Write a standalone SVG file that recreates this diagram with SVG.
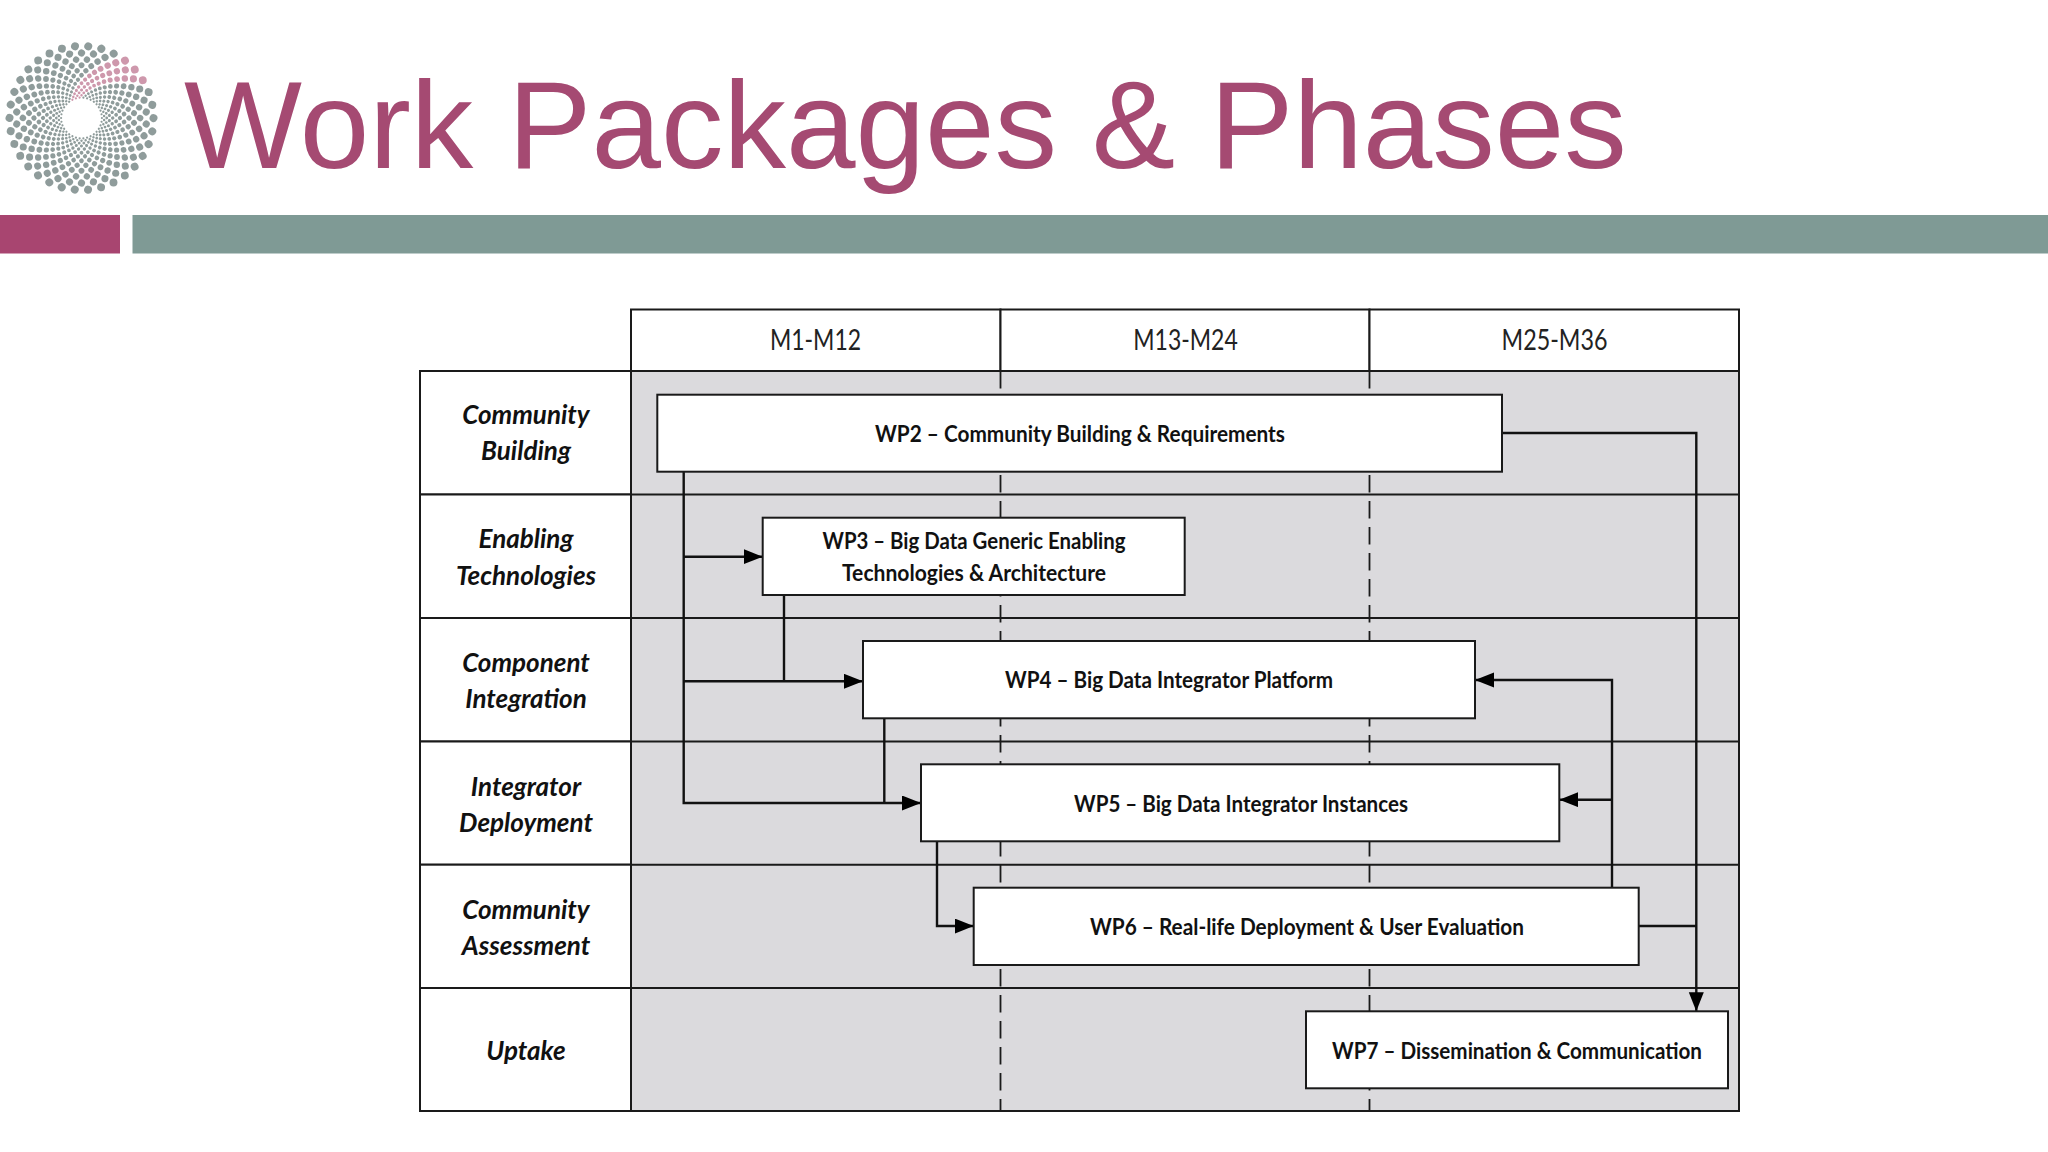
<svg xmlns="http://www.w3.org/2000/svg" width="2048" height="1152" viewBox="0 0 2048 1152">
<style>
.title{font-family:"Liberation Sans",Arial,sans-serif;font-size:125px;fill:#A54A72}
.grid{fill:none;stroke:#1a1a1a;stroke-width:2}
.cell{fill:#fff;stroke:#1a1a1a;stroke-width:2}
.box{fill:#fff;stroke:#1a1a1a;stroke-width:2}
.dash{fill:none;stroke:#1a1a1a;stroke-width:1.8;stroke-dasharray:17.5 8.5}
.conn{fill:none;stroke:#111;stroke-width:2.4}
.hd{font-family:Lato,"Liberation Sans",sans-serif;font-size:28px;fill:#222;text-anchor:middle}
.row{font-family:Lato,"Liberation Sans",sans-serif;font-size:26px;font-weight:700;font-style:italic;fill:#111;text-anchor:middle}
.wp{font-family:Lato,"Liberation Sans",sans-serif;font-size:23.5px;font-weight:700;fill:#111;text-anchor:middle}
</style>
<defs>
<marker id="arrow" markerUnits="userSpaceOnUse" markerWidth="20" markerHeight="16" refX="19" refY="7.5" orient="auto"><path d="M0,0L19,7.5L0,15Z" fill="#000"/></marker>
<g id="arm">
<circle cx="20.4" cy="0" r="1.1"/><circle cx="22.6" cy="2.1" r="1.25"/><circle cx="24.8" cy="4.6" r="1.4"/><circle cx="26.9" cy="7.7" r="1.55"/><circle cx="29.1" cy="11.3" r="1.7"/><circle cx="31.1" cy="15.5" r="1.9"/><circle cx="32.7" cy="20.3" r="2.1"/><circle cx="34.1" cy="25.8" r="2.35"/><circle cx="35.1" cy="32" r="2.6"/><circle cx="35.5" cy="39" r="2.9"/><circle cx="35.3" cy="46.8" r="3.2"/><circle cx="34.2" cy="55.3" r="3.55"/><circle cx="32" cy="64.5" r="3.95"/>
</g>
</defs>
<rect width="2048" height="1152" fill="#fff"/>
<g id="logo" transform="translate(81.5,118)" fill="#8F9C9B">
<use href="#arm" transform="rotate(0)"/><use href="#arm" transform="rotate(10.59)"/><use href="#arm" transform="rotate(21.18)"/><use href="#arm" transform="rotate(31.76)"/><use href="#arm" transform="rotate(42.35)"/><use href="#arm" transform="rotate(52.94)"/><use href="#arm" transform="rotate(63.53)"/><use href="#arm" transform="rotate(74.12)"/><use href="#arm" transform="rotate(84.71)"/><use href="#arm" transform="rotate(95.29)"/><use href="#arm" transform="rotate(105.88)"/><use href="#arm" transform="rotate(116.47)"/><use href="#arm" transform="rotate(127.06)"/><use href="#arm" transform="rotate(137.65)"/><use href="#arm" transform="rotate(148.24)"/><use href="#arm" transform="rotate(158.82)"/><use href="#arm" transform="rotate(169.41)"/><use href="#arm" transform="rotate(180)"/><use href="#arm" transform="rotate(190.59)"/><use href="#arm" transform="rotate(201.18)"/><use href="#arm" transform="rotate(211.76)"/><use href="#arm" transform="rotate(222.35)"/><use href="#arm" transform="rotate(232.94)"/><use href="#arm" transform="rotate(243.53)" fill="#CE98AC"/><use href="#arm" transform="rotate(254.12)" fill="#CE98AC"/><use href="#arm" transform="rotate(264.71)" fill="#CE98AC"/><use href="#arm" transform="rotate(275.29)"/><use href="#arm" transform="rotate(285.88)"/><use href="#arm" transform="rotate(296.47)"/><use href="#arm" transform="rotate(307.06)"/><use href="#arm" transform="rotate(317.65)"/><use href="#arm" transform="rotate(328.24)"/><use href="#arm" transform="rotate(338.82)"/><use href="#arm" transform="rotate(349.41)"/>
<circle r="15" fill="#fff"/>
</g>
<text class="title" x="184" y="168">Work Packages &amp; Phases</text>
<rect x="0" y="215" width="120" height="38.5" fill="#A84570"/>
<rect x="132.5" y="215" width="1915.5" height="38.5" fill="#7F9A95"/>
<g id="table">
<rect x="631" y="371" width="1108" height="740" fill="#DBDADD"/>
<path class="dash" d="M1000.5,371V1111M1369.5,371V1111"/>
<path class="grid" d="M631,494.5H1739M631,618H1739M631,741.5H1739M631,864.7H1739M631,988H1739M631,371H1739V1111H631Z"/>
</g>
<g id="header">
<rect class="cell" x="631" y="309.5" width="369.5" height="61.5"/>
<rect class="cell" x="1000.5" y="309.5" width="369" height="61.5"/>
<rect class="cell" x="1369.5" y="309.5" width="369.5" height="61.5"/>
<text class="hd" x="815.5" y="349.5" textLength="91" lengthAdjust="spacingAndGlyphs">M1-M12</text>
<text class="hd" x="1185.5" y="349.5" textLength="104.5" lengthAdjust="spacingAndGlyphs">M13-M24</text>
<text class="hd" x="1554.5" y="349.5" textLength="106" lengthAdjust="spacingAndGlyphs">M25-M36</text>
</g>
<g id="row-community-building"><rect class="cell" x="420" y="371" width="211" height="123.5"/><text class="row" x="526" y="424">Community</text><text class="row" x="526" y="460">Building</text></g>
<g id="row-enabling-technologies"><rect class="cell" x="420" y="494.5" width="211" height="123.5"/><text class="row" x="526" y="548">Enabling</text><text class="row" x="526" y="585">Technologies</text></g>
<g id="row-component-integration"><rect class="cell" x="420" y="618" width="211" height="123.5"/><text class="row" x="526" y="672">Component</text><text class="row" x="526" y="708">Integration</text></g>
<g id="row-integrator-deployment"><rect class="cell" x="420" y="741.5" width="211" height="123.2"/><text class="row" x="526" y="796">Integrator</text><text class="row" x="526" y="832">Deployment</text></g>
<g id="row-community-assessment"><rect class="cell" x="420" y="864.7" width="211" height="123.3"/><text class="row" x="526" y="919">Community</text><text class="row" x="526" y="955">Assessment</text></g>
<g id="row-uptake"><rect class="cell" x="420" y="988" width="211" height="123"/><text class="row" x="526" y="1060">Uptake</text></g>
<g id="connectors">
<path class="conn" d="M683.7,471.7V803H921" marker-end="url(#arrow)"/>
<path class="conn" d="M683.7,556.7H762.7" marker-end="url(#arrow)"/>
<path class="conn" d="M683.7,681.3H863" marker-end="url(#arrow)"/>
<path class="conn" d="M784,595V681.3"/>
<path class="conn" d="M884.3,718.3V803"/>
<path class="conn" d="M937,841.3V926H973.7" marker-end="url(#arrow)"/>
<path class="conn" d="M1612,887.7V680H1475" marker-end="url(#arrow)"/>
<path class="conn" d="M1612,799.7H1559.3" marker-end="url(#arrow)"/>
<path class="conn" d="M1502,433H1696.3V1011.3" marker-end="url(#arrow)"/>
<path class="conn" d="M1638.7,926H1696.3"/>
</g>
<g id="wp2"><rect class="box" x="657.3" y="394.7" width="844.7" height="77"/><text class="wp" x="1080" y="441.5" textLength="410" lengthAdjust="spacingAndGlyphs">WP2 – Community Building &amp; Requirements</text></g>
<g id="wp3"><rect class="box" x="762.7" y="517.7" width="422" height="77.3"/><text class="wp" x="974" y="549" textLength="303" lengthAdjust="spacingAndGlyphs">WP3 – Big Data Generic Enabling</text><text class="wp" x="974" y="581" textLength="264" lengthAdjust="spacingAndGlyphs">Technologies &amp; Architecture</text></g>
<g id="wp4"><rect class="box" x="863" y="641" width="612" height="77.3"/><text class="wp" x="1169" y="688" textLength="328" lengthAdjust="spacingAndGlyphs">WP4 – Big Data Integrator Platform</text></g>
<g id="wp5"><rect class="box" x="921" y="764.3" width="638.3" height="77"/><text class="wp" x="1241" y="812" textLength="334" lengthAdjust="spacingAndGlyphs">WP5 – Big Data Integrator Instances</text></g>
<g id="wp6"><rect class="box" x="973.7" y="887.7" width="665" height="77.3"/><text class="wp" x="1307" y="935" textLength="434" lengthAdjust="spacingAndGlyphs">WP6 – Real-life Deployment &amp; User Evaluation</text></g>
<g id="wp7"><rect class="box" x="1306" y="1011.3" width="422" height="77"/><text class="wp" x="1517" y="1059" textLength="370" lengthAdjust="spacingAndGlyphs">WP7 – Dissemination &amp; Communication</text></g>
</svg>
